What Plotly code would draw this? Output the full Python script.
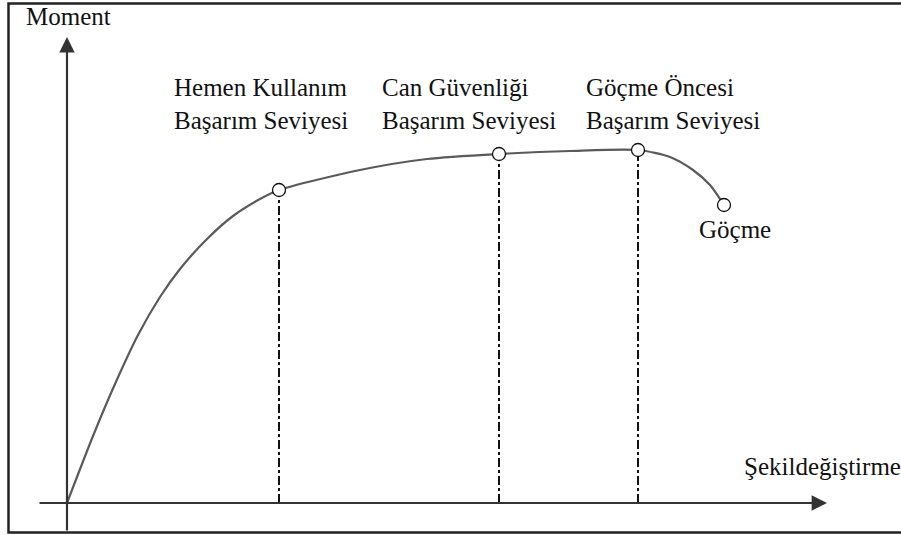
import plotly.graph_objects as go

# Moment - deformation curve (arbitrary units)
deformation = [0, 26, 48, 71, 93, 113, 140, 166, 193, 212, 293, 360, 432, 503, 571, 603, 626, 643, 657]
moment      = [0, 67, 119, 168, 206, 234, 264, 287, 304, 313, 333, 344, 349, 352, 353, 346, 333, 318, 298]

# Performance levels
level_x = [212, 432, 571, 657]
level_y = [313, 349, 353, 298]
level_labels = [
    "Hemen Kullanım<br>Başarım Seviyesi",
    "Can Güvenliği<br>Başarım Seviyesi",
    "Göçme Öncesi<br>Başarım Seviyesi",
    "Göçme",
]
axis_titles = ["Moment", "Şekildeğiştirme"]

FONT = "Liberation Serif, Times New Roman, serif"

fig = go.Figure()

# dash-dot drop lines for first three levels
for xv, yv in zip(level_x[:3], level_y[:3]):
    fig.add_trace(go.Scatter(x=[xv, xv], y=[0, yv], mode="lines",
                             line=dict(color="#111111", width=2, dash="dashdot"),
                             hoverinfo="skip", showlegend=False))

# curve
fig.add_trace(go.Scatter(x=deformation, y=moment, mode="lines",
                         line=dict(color="#5a5a5a", width=2.2, shape="spline", smoothing=0.7),
                         showlegend=False))

# level markers
fig.add_trace(go.Scatter(x=level_x, y=level_y, mode="markers",
                         marker=dict(size=13, color="white", line=dict(color="#111111", width=1.3)),
                         showlegend=False))

# axes with arrows
fig.add_annotation(x=0, y=466, ax=0, ay=-29, xref="x", yref="y", axref="x", ayref="y",
                   text="", showarrow=True, arrowhead=2, arrowsize=1.4, arrowwidth=2.2,
                   arrowcolor="#333333", standoff=0)
fig.add_annotation(x=760, y=0, ax=-29, ay=0, xref="x", yref="y", axref="x", ayref="y",
                   text="", showarrow=True, arrowhead=2, arrowsize=1.4, arrowwidth=2.2,
                   arrowcolor="#333333", standoff=0)

# labels
label_pos = [(105, 399), (313, 399), (517, 399), (630, 274)]
for (lx, ly), txt in zip(label_pos, level_labels):
    fig.add_annotation(x=lx, y=ly, xref="x", yref="y", text=txt, showarrow=False,
                       xanchor="left", yanchor="middle", align="left",
                       font=dict(family=FONT, size=25, color="#111111"))

fig.add_annotation(x=-43, y=487, xref="x", yref="y", text=axis_titles[0], showarrow=False,
                   xanchor="left", yanchor="middle", font=dict(family=FONT, size=25, color="#111111"))
fig.add_annotation(x=675, y=37, xref="x", yref="y", text=axis_titles[1], showarrow=False,
                   xanchor="left", yanchor="middle", font=dict(family=FONT, size=25, color="#111111"))

# outer frame
fig.add_shape(type="rect", xref="paper", yref="paper",
              x0=8.5 / 901, x1=1.05, y0=(535 - 532.5) / 535, y1=(535 - 3.5) / 535,
              line=dict(color="#222222", width=2.5), fillcolor="rgba(0,0,0,0)")

fig.update_xaxes(range=[-67, 834], visible=False, fixedrange=True)
fig.update_yaxes(range=[-32, 503], visible=False, fixedrange=True)
fig.update_layout(width=901, height=535, margin=dict(l=0, r=0, t=0, b=0),
                  paper_bgcolor="white", plot_bgcolor="white", showlegend=False)

fig.write_html("out.html", config={"displayModeBar": False},
               post_script="document.body.style.margin='0';document.body.style.overflow='hidden';")
